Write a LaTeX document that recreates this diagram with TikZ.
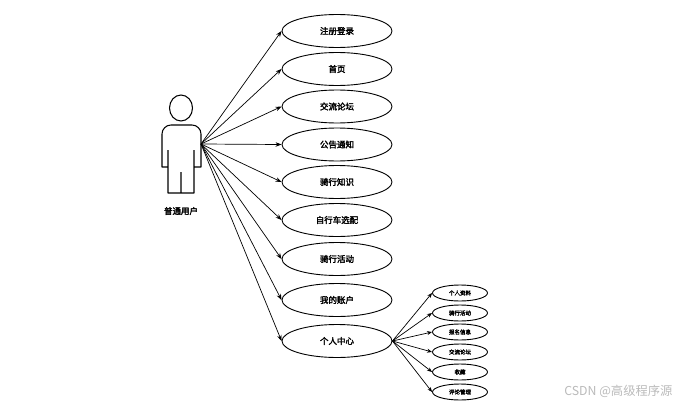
\documentclass[tikz,border=0pt]{standalone}
\usepackage{fontspec}
\setmainfont{Liberation Sans}
\newfontfamily\cjk{Noto Sans CJK SC}[FakeBold=2.5]
\newfontfamily\wm{Noto Sans CJK SC}
\usetikzlibrary{arrows.meta,shapes.geometric}
\tikzset{
 uc/.style={draw=black,ellipse,line width=.9pt,minimum width=110pt,minimum height=33pt,inner sep=0pt,font=\cjk\fontsize{8.5}{10}\selectfont},
 ucs/.style={draw=black,ellipse,line width=.9pt,minimum width=55pt,minimum height=16pt,inner sep=0pt,font=\cjk\fontsize{5.5}{6}\selectfont},
 link/.style={draw=black,line width=.7pt,-{Stealth[length=6pt,width=4.5pt]}},
 link2/.style={draw=black,line width=.7pt,-{Stealth[length=5pt,width=4pt]}},
 actor/.style={draw=black,line width=1.05pt,line join=round}
}
\begin{document}
\begin{tikzpicture}[x=1pt,y=-1pt]
\useasboundingbox (0,0) rectangle (684,404);
\node[uc] (a) at (337,31) {注册登录};
\node[uc] (b) at (337,69) {首页};
\node[uc] (c) at (337,106.5) {交流论坛};
\node[uc] (d) at (337,144.5) {公告通知};
\node[uc] (e) at (337,182) {骑行知识};
\node[uc] (f) at (337,220) {自行车选配};
\node[uc] (g) at (337,259) {骑行活动};
\node[uc] (h) at (337,300) {我的账户};
\node[uc] (i) at (337,341) {个人中心};
\node[ucs] (s1) at (460,293) {个人资料};
\node[ucs] (s2) at (460,313) {骑行活动};
\node[ucs] (s3) at (460,332) {报名信息};
\node[ucs] (s4) at (460,352) {交流论坛};
\node[ucs] (s5) at (460,372) {收藏};
\node[ucs] (s6) at (460,392) {评论管理};
\draw[actor] (181,108) ellipse [x radius=11.5,y radius=13];
\draw[actor] (168,150) -- (168,167) -- (162,167) -- (162,134) arc[start angle=180,end angle=270,radius=9] -- (192,125) arc[start angle=-90,end angle=0,radius=9] -- (201,167) -- (194,167) -- (194,150) (168,150) -- (168,193) -- (194,193) -- (194,150) (181,172) -- (181,193);
\node[font=\cjk\fontsize{8.5}{10}\selectfont] (u) at (181,211) {普通用户};
\coordinate (o) at (201,144);
\foreach \t in {a,b,c,d,e,f,g,h,i} \draw[link] (o) -- (\t.west);
\foreach \t in {s1,s2,s3,s4,s5,s6} \draw[link2] (i.east) -- (\t.west);
\node[font=\wm\fontsize{12.3}{14}\selectfont,text=black!27,anchor=east] (w) at (676,391) {CSDN @高级程序源};
\end{tikzpicture}
\end{document}
